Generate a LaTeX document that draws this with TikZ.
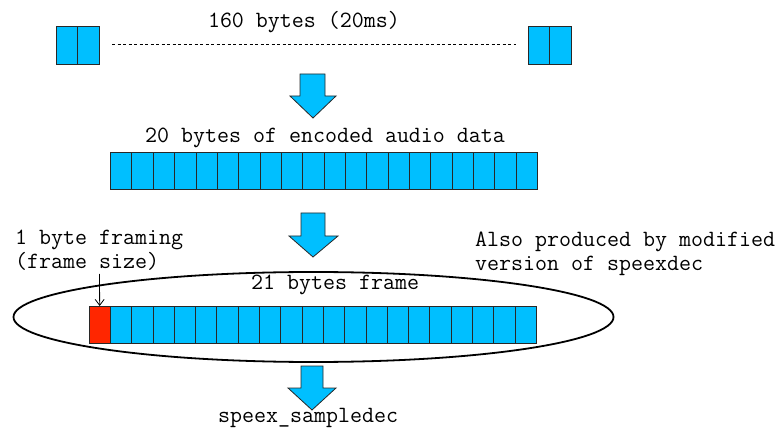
\documentclass[tikz,border=0pt]{standalone}
\usepackage{fontspec}
\usetikzlibrary{shapes.geometric,arrows.meta}
\definecolor{bytecyan}{RGB}{0,191,255}
\definecolor{bytered}{RGB}{255,38,0}
\definecolor{cellline}{RGB}{40,40,40}
\begin{document}
\begin{tikzpicture}[x=1pt,y=-1pt,
  cell/.style={draw=cellline,fill=bytecyan,line width=0.8pt,minimum width=21.35pt,minimum height=37pt,inner sep=0pt,outer sep=0pt,anchor=north west},
  redcell/.style={cell,fill=bytered},
  lbl/.style={font=\ttfamily\fontsize{23.3}{24}\selectfont,inner sep=0pt},
  bigarrow/.style={draw=cellline,fill=bytecyan,line width=0.8pt,line join=miter}]
\useasboundingbox (0,0) rectangle (784,430);
% top
\node[lbl] (t1) at (304,22) {160 bytes (20ms)};
\node[cell,minimum width=21.5pt,minimum height=38pt] (a1) at (56,26) {};
\node[cell,minimum width=21.5pt,minimum height=38pt] (a2) at (77.5,26) {};
\node[cell,minimum width=21.5pt,minimum height=38pt] (b1) at (528,26) {};
\node[cell,minimum width=21.5pt,minimum height=38pt] (b2) at (549.5,26) {};
\draw[dashed,line width=0.6pt,dash pattern=on 3pt off 2.5pt] (112,44) -- (516,44);
% arrow 1
\draw[bigarrow] (300,74) -- (325,74) -- (325,96) -- (336,96) -- (313,118) -- (290,96) -- (300,96) -- cycle;
\node[lbl] (t2) at (325,138) {20 bytes of encoded audio data};
\foreach \i in {0,...,19} {
  \node[cell] (c\i) at ({110.5+21.35*\i},152) {};
}
% arrow 2
\draw[bigarrow] (301,213) -- (325,213) -- (325,236) -- (338,236) -- (313,257) -- (289,236) -- (301,236) -- cycle;
% ellipse
\node[draw,ellipse,minimum width=600pt,minimum height=90pt,line width=1.8pt,inner sep=0pt] (ell) at (313.5,317) {};
\node[lbl] (t3) at (335,285) {21 bytes frame};
\node[redcell] (r0) at (89,306) {};
\foreach \i in {1,...,20} {
  \node[cell] (f\i) at ({89+21.3*\i},306) {};
}
\node[lbl,anchor=west,align=left] (t4) at (15,250) {1 byte framing\\(frame size)};
\coordinate (p4) at (99.5,274);
\draw[-{Straight Barb[length=6pt,width=9pt]},line width=0.8pt] (p4) -- (r0.north);
\node[lbl,anchor=west,align=left] (t5) at (475,254) {Also produced by modified\\version of speexdec};
% arrow 3
\draw[bigarrow] (301,366) -- (323,366) -- (323,388) -- (336,388) -- (312,410) -- (288,388) -- (301,388) -- cycle;
\node[lbl] (t6) at (308,418) {speex\_sampledec};
\end{tikzpicture}
\end{document}
